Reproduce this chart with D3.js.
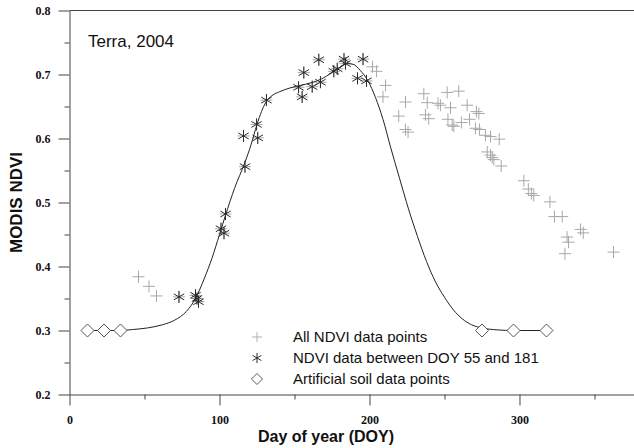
<!DOCTYPE html>
<html><head><meta charset="utf-8">
<script src="https://cdn.jsdelivr.net/npm/d3@7"></script>
<style>body{margin:0;background:#fff}svg{display:block}</style>
</head><body>
<script>
// ---- data ----
const allDays = [46, 53, 58,
  73, 84, 85, 86, 101, 103, 104, 117, 116, 125.5, 124.7, 131.3, 152.7, 155.1, 156.2, 161.8, 166.2, 167.3, 176.2, 178.5, 183, 184, 192, 195.7, 198,
  202, 204.7, 210.7, 209, 224, 219.5, 224, 225.7, 236.2, 238.5, 237.3, 239.5, 245.7, 247.3, 251.8, 259.5, 254, 265.1, 271.3, 272.9,
  252.3, 255.1, 256.2, 261.3, 266.7, 270.7, 273.3, 277.3, 280.7, 286.5, 278.5, 280.7, 281.8, 282.9, 287.8, 302.9, 305.9, 307.9, 309.5,
  320.3, 323.3, 328.5, 340.7, 342.5, 331.7, 332.7, 330.3, 362.7];
const allNdvi = [0.384, 0.369, 0.354,
  0.3525, 0.355, 0.35, 0.345, 0.459, 0.452, 0.482, 0.556, 0.604, 0.601, 0.622, 0.66, 0.68, 0.665, 0.703, 0.681, 0.723, 0.688, 0.705, 0.709, 0.724, 0.717, 0.694, 0.724, 0.69,
  0.712, 0.705, 0.683, 0.665, 0.657, 0.635, 0.614, 0.61, 0.67, 0.656, 0.637, 0.631, 0.655, 0.652, 0.672, 0.674, 0.648, 0.652, 0.642, 0.639,
  0.63, 0.621, 0.619, 0.625, 0.63, 0.616, 0.614, 0.605, 0.603, 0.599, 0.579, 0.574, 0.57, 0.567, 0.557, 0.534, 0.521, 0.514, 0.511,
  0.501, 0.478, 0.478, 0.458, 0.4525, 0.446, 0.438, 0.42, 0.4225];

const fitDays = [73, 84, 85, 86, 101, 103, 104, 117, 116, 125.5, 124.7, 131.3, 152.7, 155.1, 156.2, 161.8, 166.2, 167.3, 176.2, 178.5, 183, 184, 192, 195.7, 198];
const fitNdvi = [0.3525, 0.355, 0.35, 0.345, 0.459, 0.452, 0.482, 0.556, 0.604, 0.601, 0.622, 0.66, 0.68, 0.665, 0.703, 0.681, 0.723, 0.688, 0.705, 0.709, 0.724, 0.717, 0.694, 0.724, 0.69];

const soilDays = [12, 23, 34, 275, 296, 318];
const soilNdvi = [0.3, 0.3, 0.3, 0.3, 0.3, 0.3];

const curveDays = [12, 23, 34, 42, 52, 62, 70, 78, 84, 90, 95, 100, 104, 110, 117, 121, 125, 128, 131, 135, 140, 147, 154, 161, 168, 175, 181, 185, 189, 194, 199, 204, 209, 214, 220, 226, 232, 238, 244, 250, 256, 262, 268, 275, 285, 296, 318];
const curveNdvi = [0.300, 0.300, 0.300, 0.3015, 0.304, 0.309, 0.316, 0.330, 0.350, 0.382, 0.413, 0.450, 0.480, 0.522, 0.563, 0.590, 0.622, 0.642, 0.657, 0.667, 0.673, 0.679, 0.683, 0.687, 0.693, 0.703, 0.712, 0.717, 0.716, 0.706, 0.690, 0.664, 0.630, 0.587, 0.538, 0.490, 0.447, 0.408, 0.376, 0.352, 0.332, 0.318, 0.309, 0.304, 0.301, 0.300, 0.300];

const xTicks = [0, 100, 200, 300];
const xMinor = [50, 150, 250, 350];
const yTicks = [0.2, 0.3, 0.4, 0.5, 0.6, 0.7, 0.8];
const yMinor = [0.25, 0.35, 0.45, 0.55, 0.65, 0.75];
const legendLabels = ["All NDVI data points", "NDVI data between DOY 55 and 181", "Artificial soil data points"];
const titleText = "Terra, 2004";
const xTitle = "Day of year (DOY)";
const yTitle = "MODIS NDVI";

// ---- drawing ----
const W = 634, H = 448;
const svg = d3.select("body").append("svg").attr("width", W).attr("height", H);
const x = d3.scaleLinear().domain([0, 376.67]).range([69.5, 634.5]);
const y = d3.scaleLinear().domain([0.2, 0.8]).range([394.5, 10.5]);

const axisColor = "#444";
const tickFont = "bold 12px 'Liberation Serif', 'Times New Roman', serif";

// top frame
svg.append("line").attr("x1", x(0)).attr("x2", W).attr("y1", y(0.8)).attr("y2", y(0.8))
  .attr("stroke", axisColor).attr("stroke-width", 1);

// x axis
const gx = svg.append("g").attr("transform", `translate(0,${y(0.2)})`)
  .call(d3.axisBottom(x).tickValues(xTicks).tickSize(11).tickSizeOuter(0).tickPadding(10).tickFormat(d3.format("d")));
svg.append("g").attr("transform", `translate(0,${y(0.2)})`)
  .call(d3.axisBottom(x).tickValues(xMinor).tickSize(5).tickSizeOuter(0).tickFormat(""))
  .select(".domain").remove();

// y axis
const gy = svg.append("g").attr("transform", `translate(${x(0)},0)`)
  .call(d3.axisLeft(y).tickValues(yTicks).tickSize(11).tickSizeOuter(0).tickPadding(8).tickFormat(d3.format(".1f")));
svg.append("g").attr("transform", `translate(${x(0)},0)`)
  .call(d3.axisLeft(y).tickValues(yMinor).tickSize(5).tickSizeOuter(0).tickFormat(""))
  .select(".domain").remove();

svg.selectAll(".domain, .tick line").attr("stroke", axisColor);
svg.selectAll(".tick text").style("font", tickFont).attr("fill", "#111");

// axis titles
svg.append("text").attr("x", 326).attr("y", 442).attr("text-anchor", "middle")
  .style("font", "bold 16px 'Liberation Sans', Arial, sans-serif").attr("fill", "#111").text(xTitle);
svg.append("text").attr("transform", `translate(22,${(y(0.2) + y(0.8)) / 2}) rotate(-90)`).attr("text-anchor", "middle")
  .style("font", "bold 17px 'Liberation Sans', Arial, sans-serif").attr("fill", "#111").text(yTitle);

// chart label
svg.append("text").attr("x", 88).attr("y", 47)
  .style("font", "17px 'Liberation Sans', Arial, sans-serif").attr("fill", "#111").text(titleText);

// symbol paths
const plusPath = "M-6,0H6M0,-6V6";
const starPath = "M0,-6V6M-5.2,-3L5.2,3M-5.2,3L5.2,-3";
const diamondPath = "M0,-6.5L6.5,0L0,6.5L-6.5,0Z";

// all NDVI data points (gray plus)
svg.append("g").selectAll("path").data(allDays.map((d, i) => [d, allNdvi[i]])).join("path")
  .attr("transform", d => `translate(${x(d[0])},${y(d[1])})`)
  .attr("d", plusPath).attr("stroke", "#a8a8a8").attr("stroke-width", 1).attr("fill", "none");

// fitted curve
const line = d3.line().x(d => x(d[0])).y(d => y(d[1])).curve(d3.curveMonotoneX);
svg.append("path").datum(curveDays.map((d, i) => [d, curveNdvi[i]]))
  .attr("d", line).attr("fill", "none").attr("stroke", "#222").attr("stroke-width", 1);

// NDVI 55-181 (asterisk)
svg.append("g").selectAll("path").data(fitDays.map((d, i) => [d, fitNdvi[i]])).join("path")
  .attr("transform", d => `translate(${x(d[0])},${y(d[1])})`)
  .attr("d", starPath).attr("stroke", "#2a2a2a").attr("stroke-width", 1).attr("fill", "none");

// artificial soil (diamond)
svg.append("g").selectAll("path").data(soilDays.map((d, i) => [d, soilNdvi[i]])).join("path")
  .attr("transform", d => `translate(${x(d[0])},${y(d[1])})`)
  .attr("d", diamondPath).attr("stroke", "#555").attr("stroke-width", 1).attr("fill", "#fff");

// legend
const legendSyms = [
  {p: plusPath, s: "#b0b0b0", f: "none"},
  {p: starPath, s: "#2a2a2a", f: "none"},
  {p: diamondPath, s: "#555", f: "#fff"}
];
const lg = svg.append("g");
legendLabels.forEach((t, i) => {
  const yy = 337 + i * 21;
  lg.append("path").attr("transform", `translate(257,${yy}) scale(0.85)`).attr("d", legendSyms[i].p)
    .attr("stroke", legendSyms[i].s).attr("fill", legendSyms[i].f).attr("stroke-width", 1.15);
  lg.append("text").attr("x", 293).attr("y", yy).attr("dy", "0.35em")
    .style("font", "15px 'Liberation Sans', Arial, sans-serif").attr("fill", "#111").text(t);
});
</script>
</body></html>
